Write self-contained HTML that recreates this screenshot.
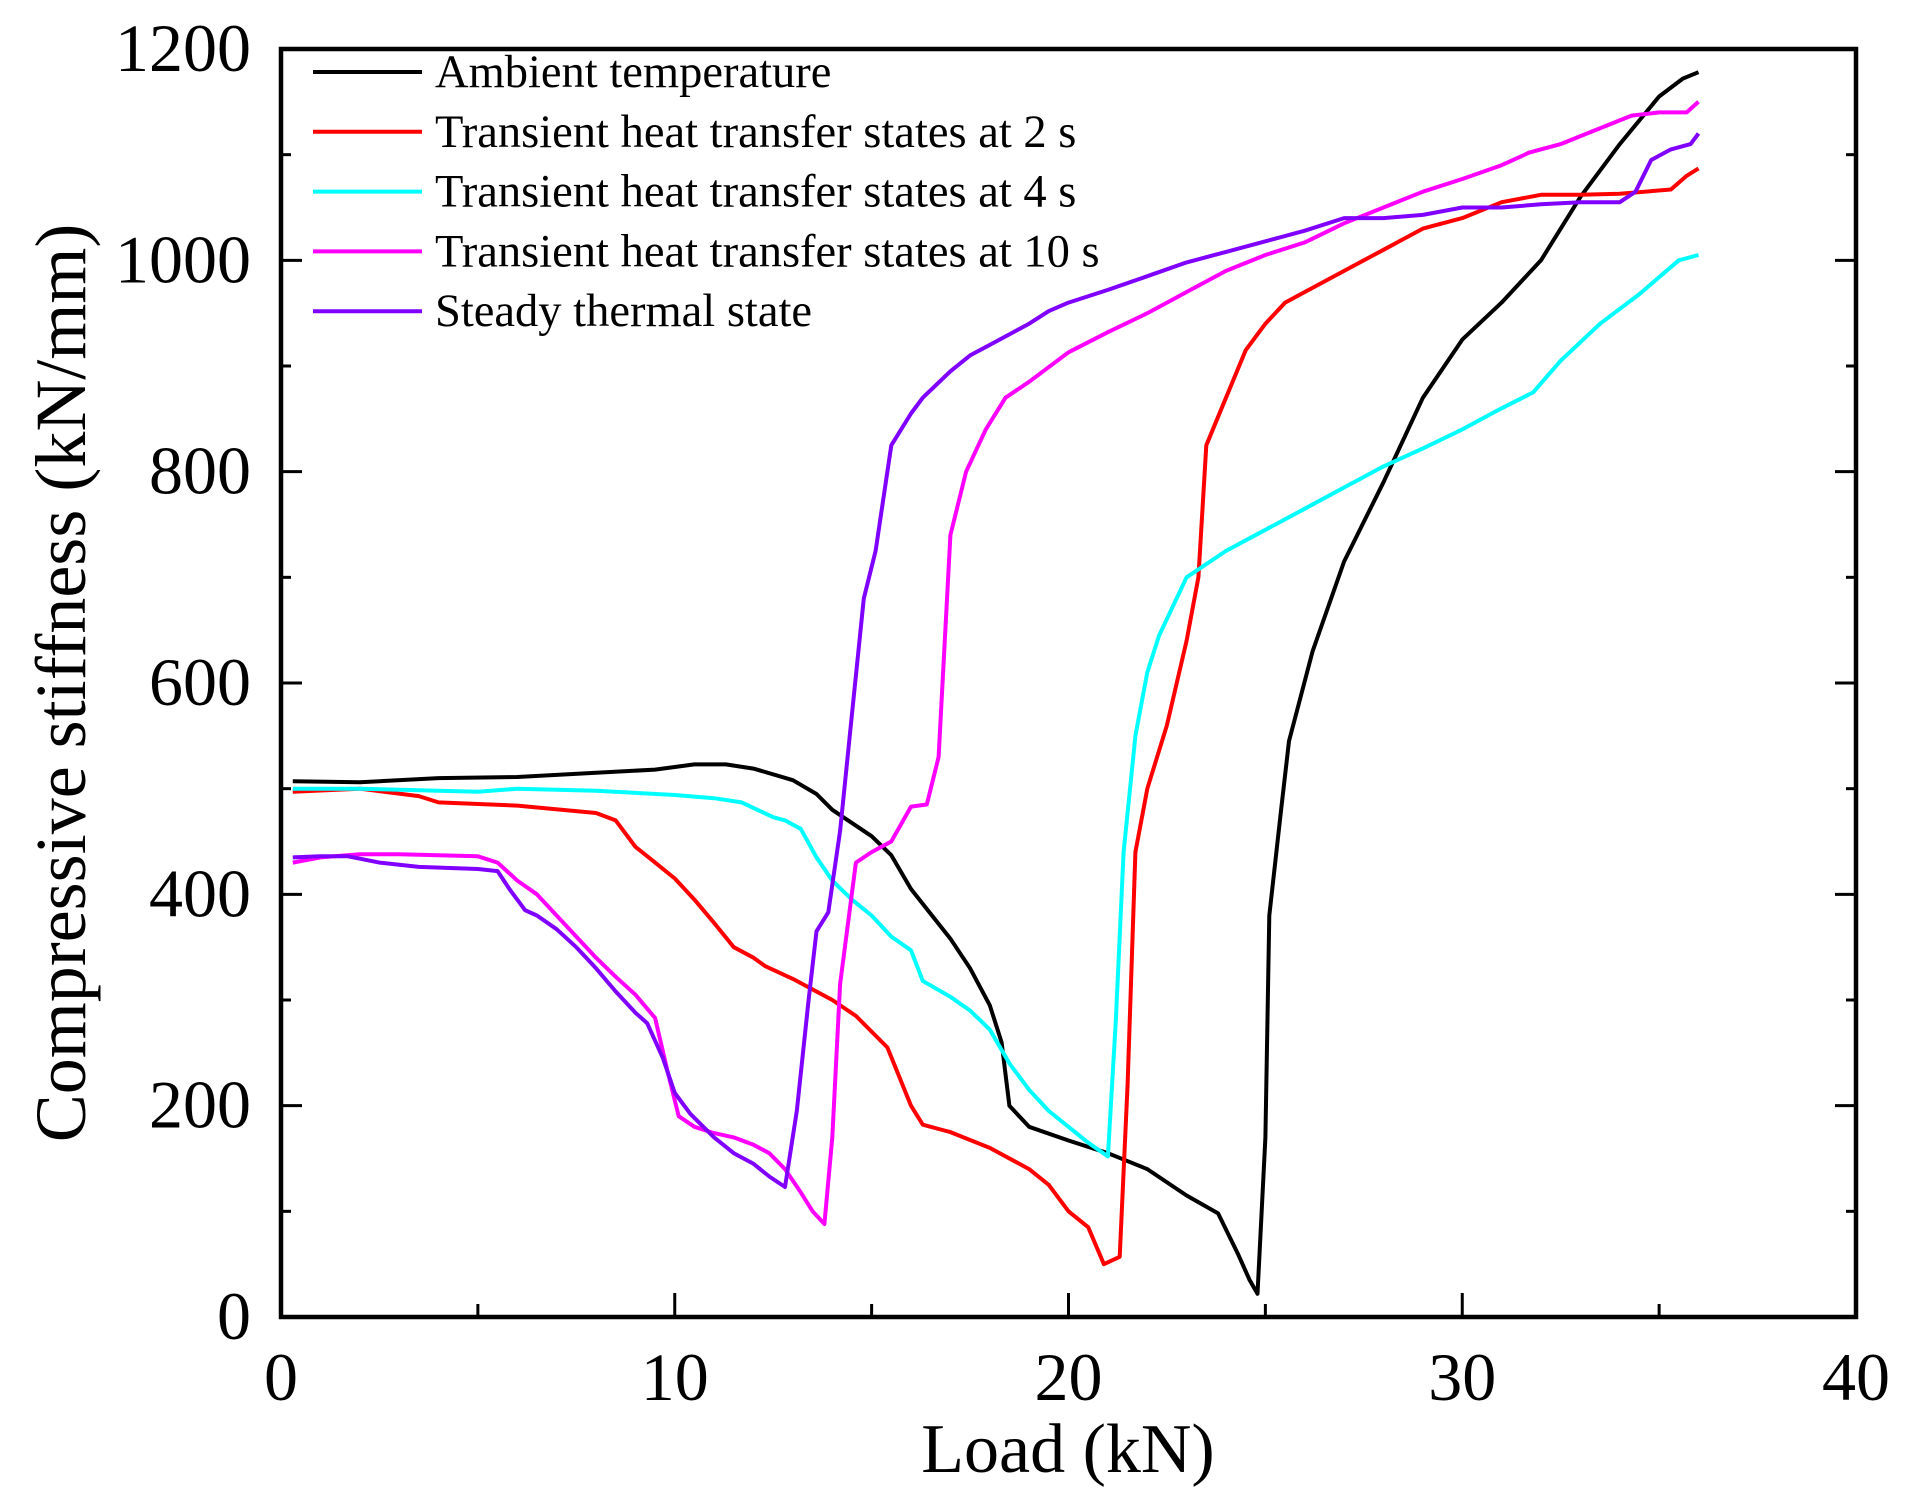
<!DOCTYPE html>
<html><head><meta charset="utf-8"><style>body{margin:0;background:#fff}svg{display:block}text{font-family:"Liberation Serif",serif;fill:#000}</style></head>
<body>
<svg id="chart" width="1907" height="1493"></svg>
<script>
const xTicks=[0,10,20,30,40];
const yTicks=[0,200,400,600,800,1000,1200];
const seriesNames=["Ambient temperature","Transient heat transfer states at 2 s","Transient heat transfer states at 4 s","Transient heat transfer states at 10 s","Steady thermal state"];
const seriesColors=["#000000","#ff0000","#00ffff","#ff00ff","#8000ff"];
const ambient=[[0.3,507],[2,506],[4,510],[6,511],[8,515],[9.5,518],[10.5,523],[11.3,523],[12,519],[13,508],[13.6,495],[14,480],[15,455],[15.5,437],[16,405],[17,358],[17.5,330],[18,295],[18.3,260],[18.5,200],[19,180],[20,167],[21,155],[22,140],[23,115],[23.8,98],[24.3,60],[24.6,35],[24.8,22],[25,170],[25.1,380],[25.4,480],[25.6,545],[26.2,630],[27,715],[28,790],[29,870],[30,925],[31,960],[32,1000],[33,1060],[34,1110],[35,1155],[35.6,1172],[36,1178]];
const t2s=[[0.3,497],[2,500],[3.5,493],[4,487],[6,484],[8,477],[8.5,470],[9,445],[9.5,430],[10,415],[10.5,395],[11,373],[11.5,350],[12,340],[12.3,332],[13,320],[14,300],[14.6,285],[15.4,255],[16,200],[16.3,182],[16.8,177],[17,175],[18,160],[19,140],[19.5,125],[20,100],[20.5,85],[20.9,50],[21.3,57],[21.5,220],[21.7,440],[22,500],[22.5,560],[23,640],[23.3,700],[23.5,825],[24,870],[24.5,915],[25,940],[25.5,960],[26,970],[27,990],[28,1010],[29,1030],[30,1040],[31,1055],[32,1062],[33,1062],[34,1063],[35.3,1067],[35.7,1080],[36,1087]];
const t4s=[[0.3,500],[2,500],[4,498],[5,497],[6,500],[8,498],[10,494],[11,491],[11.7,487],[12.5,473],[12.8,470],[13.2,462],[13.6,435],[14,413],[14.5,395],[15,380],[15.5,360],[16,347],[16.3,318],[17,303],[17.5,290],[18,272],[18.5,240],[19,215],[19.5,195],[20,180],[20.5,165],[21,152],[21.2,280],[21.4,440],[21.7,550],[22,610],[22.3,645],[23,700],[24,725],[25,745],[26,765],[27,785],[28,805],[29,822],[30,840],[31,860],[31.8,875],[32.5,905],[33.5,940],[34.5,968],[35.5,1000],[36,1005]];
const t10s=[[0.3,430],[1,435],[2,438],[3,438],[4,437],[5,436],[5.5,430],[6,413],[6.5,400],[7,380],[7.5,360],[8,340],[8.5,322],[9,305],[9.5,283],[9.8,235],[10.1,190],[10.5,180],[11,174],[11.5,170],[12,163],[12.4,155],[12.8,140],[13.2,118],[13.5,100],[13.8,88],[14,170],[14.2,315],[14.6,430],[15,440],[15.5,450],[16,483],[16.4,485],[16.7,530],[17,740],[17.4,800],[17.9,840],[18.4,870],[19,885],[20,913],[21,932],[22,950],[23,970],[24,990],[25,1005],[26,1017],[27,1035],[28,1050],[29,1065],[30,1077],[31,1090],[31.7,1102],[32.5,1110],[33.3,1122],[34.3,1137],[35,1140],[35.7,1140],[36,1150]];
const steady=[[0.3,435],[1,436],[1.7,436],[2.5,430],[3.5,426],[5,424],[5.5,422],[5.8,405],[6.2,385],[6.5,380],[7,367],[7.5,350],[8,330],[8.5,308],[9,288],[9.3,278],[9.7,245],[10,212],[10.4,192],[11,170],[11.5,155],[12,145],[12.4,133],[12.8,123],[13.1,195],[13.4,300],[13.6,365],[13.9,383],[14.2,460],[14.5,570],[14.8,680],[15.1,725],[15.5,825],[16,855],[16.3,870],[17,895],[17.5,910],[18,920],[19,940],[19.5,952],[20,960],[21,972],[22,985],[23,998],[24,1008],[25,1018],[26,1028],[27,1040],[28,1040],[29,1043],[30,1050],[31,1050],[32,1053],[33,1055],[34,1055],[34.4,1065],[34.8,1095],[35.3,1105],[35.8,1110],[36,1120]];
const allSeries=[ambient,t2s,t4s,t10s,steady];
const seriesKeys=["ambient","transient-2s","transient-4s","transient-10s","steady"];

const NS="http://www.w3.org/2000/svg";
const svg=document.getElementById('chart');
const L=281,R=1856,T=49,B=1317;
const sx=v=>L+(v-0)/40*(R-L);
const sy=v=>B-(v-0)/1200*(B-T);
function mk(tag,attrs,parent){const e=document.createElementNS(NS,tag);for(const k in attrs)e.setAttribute(k,attrs[k]);(parent||svg).appendChild(e);return e;}

allSeries.forEach((s,i)=>{
  const p=mk('polyline',{points:s.map(d=>sx(d[0]).toFixed(1)+','+sy(d[1]).toFixed(1)).join(' '),fill:'none',stroke:seriesColors[i],'stroke-width':4,'stroke-linejoin':'round'});
  
  
});

for(let v=0;v<=40;v+=5){
  const major=v%10===0, len=major?24:13;
  const t=mk('line',{x1:sx(v),x2:sx(v),y1:B,y2:B-len,stroke:'#000','stroke-width':3});
  
  
}
for(let v=0;v<=1200;v+=100){
  const major=v%200===0, len=major?21:10;
  const t=mk('line',{x1:L,x2:L+len,y1:sy(v),y2:sy(v),stroke:'#000','stroke-width':3});
  
  
  const t2=mk('line',{x1:R,x2:R-len,y1:sy(v),y2:sy(v),stroke:'#000','stroke-width':3});
  
  
}
xTicks.forEach(v=>{
  const t=mk('text',{x:sx(v),y:1400,'font-size':68,'text-anchor':'middle'});t.textContent=v;
  
  
});
yTicks.forEach(v=>{
  const t=mk('text',{x:251,y:sy(v)+22,'font-size':68,'text-anchor':'end'});t.textContent=v;
  
  
});

const fr=mk('rect',{x:L,y:T,width:R-L,height:B-T,fill:'none',stroke:'#000','stroke-width':4.5});



const xt=mk('text',{x:1068,y:1472,'font-size':70,'text-anchor':'middle'});xt.textContent='Load (kN)';


const yt=mk('text',{x:0,y:0,'font-size':72,'text-anchor':'middle',transform:'translate(85,683) rotate(-90)'});yt.textContent='Compressive stiffness (kN/mm)';



seriesNames.forEach((n,i)=>{
  const y=72+i*59.8;
  const ln=mk('line',{x1:313,x2:422,y1:y,y2:y,stroke:seriesColors[i],'stroke-width':4});
  
  
  const t=mk('text',{x:435,y:y+15,'font-size':46.5});t.textContent=n;
  
  
});
</script>
</body></html>
